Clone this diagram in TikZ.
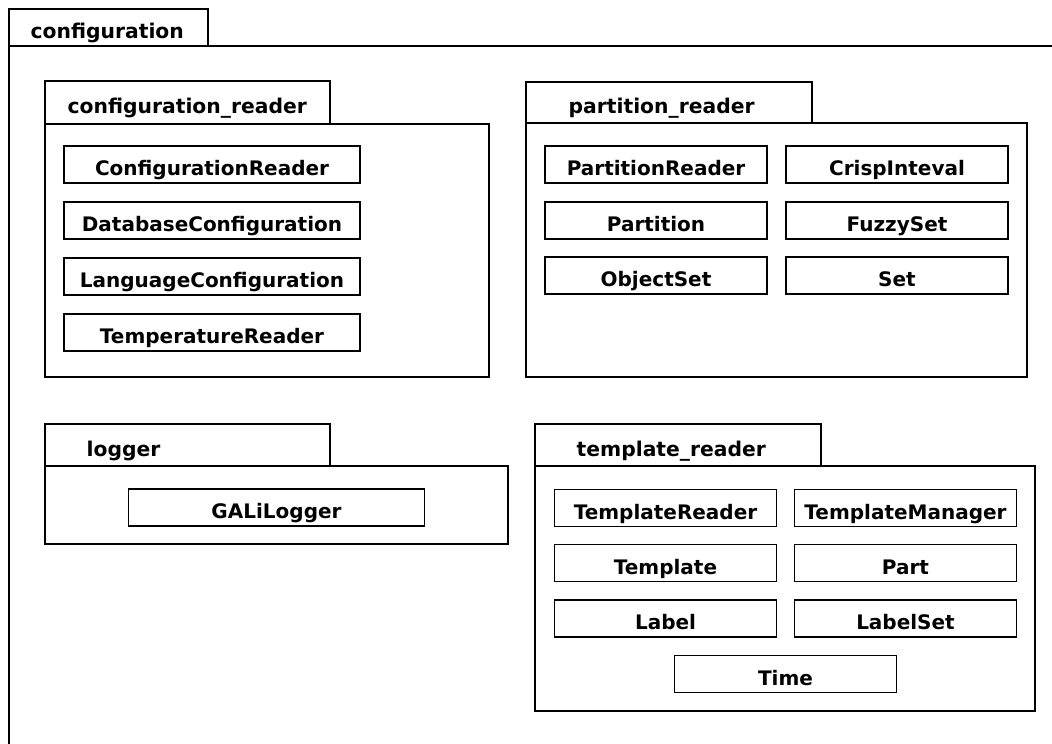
\documentclass[tikz,border=0pt]{standalone}
\usepackage{fontspec}
\newfontfamily\umlfont{DejaVu Sans}
\usepackage{tikz}

\begin{document}
\begin{tikzpicture}[x=1pt,y=-1pt,line width=1.3pt,
	pkg/.style={draw,line width=1.3pt},
	pkgname/.style={anchor=base west,inner sep=0pt,font=\umlfont\bfseries\fontsize{20.3}{24}\selectfont},
	cls/.style={draw,line width=1.3pt,minimum width=222pt,minimum height=37pt,inner sep=0pt,
		text height=22pt,text depth=0pt,font=\umlfont\bfseries\fontsize{20}{24}\selectfont},
	widecls/.style={cls,minimum width=296pt}]
	\clip (0,0) rectangle (1052,744);
	% outer package
	\draw[pkg] (9,9) rectangle (208,46);
	\draw[pkg] (9,46) rectangle (1080,780);
	\node[pkgname] (configuration) at (30,38) {configuration};
	% configuration_reader
	\draw[pkg] (45,81) rectangle (330,124);
	\draw[pkg] (45,124) rectangle (489,377);
	\node[pkgname] (configreader) at (67,113) {configuration\_reader};
	\node[widecls] (ConfigurationReader) at (212,164.5) {ConfigurationReader};
	\node[widecls] (DatabaseConfiguration) at (212,220.5) {DatabaseConfiguration};
	\node[widecls] (LanguageConfiguration) at (212,276.5) {LanguageConfiguration};
	\node[widecls] (TemperatureReader) at (212,332.5) {TemperatureReader};
	% partition_reader
	\draw[pkg] (526,82) rectangle (812,123);
	\draw[pkg] (526,123) rectangle (1027,377);
	\node[pkgname] (partitionreader) at (568,113) {partition\_reader};
	\node[cls] (PartitionReader) at (656,164.5) {PartitionReader};
	\node[cls] (CrispInteval) at (897,164.5) {CrispInteval};
	\node[cls] (Partition) at (656,220.5) {Partition};
	\node[cls] (FuzzySet) at (897,220.5) {FuzzySet};
	\node[cls] (ObjectSet) at (656,275.5) {ObjectSet};
	\node[cls] (Set) at (897,275.5) {Set};
	% logger
	\draw[pkg] (45,424) rectangle (330,466);
	\draw[pkg] (45,466) rectangle (508,544);
	\node[pkgname] (logger) at (86,456) {logger};
	\node[widecls] (GALiLogger) at (276.5,507.5) {GALiLogger};
	% template_reader
	\draw[pkg] (535,424) rectangle (821,466);
	\draw[pkg] (535,466) rectangle (1035,711);
	\node[pkgname] (templatereader) at (576,456) {template\_reader};
	\node[cls] (TemplateReader) at (665.5,508) {TemplateReader};
	\node[cls] (TemplateManager) at (905.5,508) {TemplateManager};
	\node[cls] (Template) at (665.5,563) {Template};
	\node[cls] (Part) at (905.5,563) {Part};
	\node[cls] (Label) at (665.5,618.5) {Label};
	\node[cls] (LabelSet) at (905.5,618.5) {LabelSet};
	\node[cls] (Time) at (785.5,674) {Time};
\end{tikzpicture}
\end{document}
